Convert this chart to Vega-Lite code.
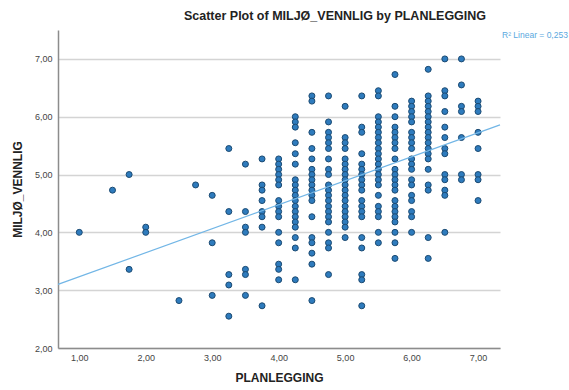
{
  "$schema": "https://vega.github.io/schema/vega-lite/v6.json",
  "autosize": "none",
  "width": 442,
  "height": 318,
  "padding": {"left": 58, "top": 30, "right": 69, "bottom": 42},
  "background": "white",
  "config": {
    "font": "Liberation Sans",
    "view": {"stroke": null}
  },
  "title": {
    "text": "Scatter Plot of MILJØ_VENNLIG by PLANLEGGING",
    "fontSize": 12.5,
    "fontWeight": "bold",
    "color": "#222222",
    "anchor": "middle",
    "dx": 56,
    "offset": 8
  },
  "datasets": {
    "pts": [
      {"plan":1,"miljo":4.00},
      {"plan":1.5,"miljo":4.73},
      {"plan":1.75,"miljo":5.00},{"plan":1.75,"miljo":3.36},
      {"plan":2,"miljo":4.09},{"plan":2,"miljo":4.00},
      {"plan":2.5,"miljo":2.82},
      {"plan":2.75,"miljo":4.82},
      {"plan":3,"miljo":4.64},{"plan":3,"miljo":3.82},{"plan":3,"miljo":2.91},
      {"plan":3.25,"miljo":5.45},{"plan":3.25,"miljo":4.36},{"plan":3.25,"miljo":3.27},{"plan":3.25,"miljo":3.09},{"plan":3.25,"miljo":2.55},
      {"plan":3.5,"miljo":5.18},{"plan":3.5,"miljo":4.36},{"plan":3.5,"miljo":4.09},{"plan":3.5,"miljo":4.00},{"plan":3.5,"miljo":3.36},{"plan":3.5,"miljo":3.27},{"plan":3.5,"miljo":2.91},
      {"plan":3.75,"miljo":5.27},{"plan":3.75,"miljo":4.82},{"plan":3.75,"miljo":4.73},{"plan":3.75,"miljo":4.55},{"plan":3.75,"miljo":4.36},{"plan":3.75,"miljo":4.27},{"plan":3.75,"miljo":4.09},{"plan":3.75,"miljo":2.73},
      {"plan":4,"miljo":5.27},{"plan":4,"miljo":5.18},{"plan":4,"miljo":5.09},{"plan":4,"miljo":5.00},{"plan":4,"miljo":4.91},{"plan":4,"miljo":4.82},{"plan":4,"miljo":4.55},{"plan":4,"miljo":4.45},{"plan":4,"miljo":4.36},{"plan":4,"miljo":4.27},{"plan":4,"miljo":4.00},{"plan":4,"miljo":3.82},{"plan":4,"miljo":3.45},{"plan":4,"miljo":3.36},{"plan":4,"miljo":3.18},
      {"plan":4.25,"miljo":6.00},{"plan":4.25,"miljo":5.91},{"plan":4.25,"miljo":5.82},{"plan":4.25,"miljo":5.55},{"plan":4.25,"miljo":5.36},{"plan":4.25,"miljo":5.18},{"plan":4.25,"miljo":4.91},{"plan":4.25,"miljo":4.82},{"plan":4.25,"miljo":4.73},{"plan":4.25,"miljo":4.64},{"plan":4.25,"miljo":4.55},{"plan":4.25,"miljo":4.45},{"plan":4.25,"miljo":4.36},{"plan":4.25,"miljo":4.27},{"plan":4.25,"miljo":4.18},{"plan":4.25,"miljo":4.09},{"plan":4.25,"miljo":3.91},{"plan":4.25,"miljo":3.73},{"plan":4.25,"miljo":3.18},
      {"plan":4.5,"miljo":6.36},{"plan":4.5,"miljo":6.27},{"plan":4.5,"miljo":5.73},{"plan":4.5,"miljo":5.45},{"plan":4.5,"miljo":5.27},{"plan":4.5,"miljo":5.09},{"plan":4.5,"miljo":5.00},{"plan":4.5,"miljo":4.91},{"plan":4.5,"miljo":4.82},{"plan":4.5,"miljo":4.73},{"plan":4.5,"miljo":4.64},{"plan":4.5,"miljo":4.55},{"plan":4.5,"miljo":4.27},{"plan":4.5,"miljo":3.91},{"plan":4.5,"miljo":3.82},{"plan":4.5,"miljo":3.64},{"plan":4.5,"miljo":3.45},{"plan":4.5,"miljo":2.82},
      {"plan":4.75,"miljo":6.36},{"plan":4.75,"miljo":5.91},{"plan":4.75,"miljo":5.73},{"plan":4.75,"miljo":5.64},{"plan":4.75,"miljo":5.55},{"plan":4.75,"miljo":5.45},{"plan":4.75,"miljo":5.27},{"plan":4.75,"miljo":5.09},{"plan":4.75,"miljo":5.00},{"plan":4.75,"miljo":4.82},{"plan":4.75,"miljo":4.73},{"plan":4.75,"miljo":4.64},{"plan":4.75,"miljo":4.55},{"plan":4.75,"miljo":4.45},{"plan":4.75,"miljo":4.36},{"plan":4.75,"miljo":4.27},{"plan":4.75,"miljo":4.18},{"plan":4.75,"miljo":4.00},{"plan":4.75,"miljo":3.82},{"plan":4.75,"miljo":3.73},{"plan":4.75,"miljo":3.27},
      {"plan":5,"miljo":6.18},{"plan":5,"miljo":5.64},{"plan":5,"miljo":5.55},{"plan":5,"miljo":5.45},{"plan":5,"miljo":5.27},{"plan":5,"miljo":5.18},{"plan":5,"miljo":5.09},{"plan":5,"miljo":5.00},{"plan":5,"miljo":4.91},{"plan":5,"miljo":4.82},{"plan":5,"miljo":4.73},{"plan":5,"miljo":4.64},{"plan":5,"miljo":4.55},{"plan":5,"miljo":4.45},{"plan":5,"miljo":4.36},{"plan":5,"miljo":4.27},{"plan":5,"miljo":4.18},{"plan":5,"miljo":4.09},{"plan":5,"miljo":3.91},
      {"plan":5.25,"miljo":6.36},{"plan":5.25,"miljo":5.82},{"plan":5.25,"miljo":5.73},{"plan":5.25,"miljo":5.36},{"plan":5.25,"miljo":5.18},{"plan":5.25,"miljo":5.09},{"plan":5.25,"miljo":5.00},{"plan":5.25,"miljo":4.91},{"plan":5.25,"miljo":4.82},{"plan":5.25,"miljo":4.73},{"plan":5.25,"miljo":4.55},{"plan":5.25,"miljo":4.45},{"plan":5.25,"miljo":4.36},{"plan":5.25,"miljo":4.27},{"plan":5.25,"miljo":3.91},{"plan":5.25,"miljo":3.73},{"plan":5.25,"miljo":3.27},{"plan":5.25,"miljo":3.18},{"plan":5.25,"miljo":2.73},
      {"plan":5.5,"miljo":6.45},{"plan":5.5,"miljo":6.36},{"plan":5.5,"miljo":6.00},{"plan":5.5,"miljo":5.91},{"plan":5.5,"miljo":5.82},{"plan":5.5,"miljo":5.73},{"plan":5.5,"miljo":5.64},{"plan":5.5,"miljo":5.55},{"plan":5.5,"miljo":5.45},{"plan":5.5,"miljo":5.36},{"plan":5.5,"miljo":5.27},{"plan":5.5,"miljo":5.18},{"plan":5.5,"miljo":5.09},{"plan":5.5,"miljo":5.00},{"plan":5.5,"miljo":4.91},{"plan":5.5,"miljo":4.82},{"plan":5.5,"miljo":4.64},{"plan":5.5,"miljo":4.45},{"plan":5.5,"miljo":4.36},{"plan":5.5,"miljo":4.27},{"plan":5.5,"miljo":4.00},{"plan":5.5,"miljo":3.82},
      {"plan":5.75,"miljo":6.73},{"plan":5.75,"miljo":6.18},{"plan":5.75,"miljo":6.00},{"plan":5.75,"miljo":5.82},{"plan":5.75,"miljo":5.73},{"plan":5.75,"miljo":5.64},{"plan":5.75,"miljo":5.55},{"plan":5.75,"miljo":5.45},{"plan":5.75,"miljo":5.27},{"plan":5.75,"miljo":5.09},{"plan":5.75,"miljo":5.00},{"plan":5.75,"miljo":4.91},{"plan":5.75,"miljo":4.82},{"plan":5.75,"miljo":4.73},{"plan":5.75,"miljo":4.55},{"plan":5.75,"miljo":4.45},{"plan":5.75,"miljo":4.36},{"plan":5.75,"miljo":4.27},{"plan":5.75,"miljo":4.18},{"plan":5.75,"miljo":4.00},{"plan":5.75,"miljo":3.82},{"plan":5.75,"miljo":3.55},
      {"plan":6,"miljo":6.27},{"plan":6,"miljo":6.18},{"plan":6,"miljo":6.09},{"plan":6,"miljo":6.00},{"plan":6,"miljo":5.91},{"plan":6,"miljo":5.73},{"plan":6,"miljo":5.64},{"plan":6,"miljo":5.55},{"plan":6,"miljo":5.45},{"plan":6,"miljo":5.27},{"plan":6,"miljo":5.18},{"plan":6,"miljo":5.09},{"plan":6,"miljo":4.91},{"plan":6,"miljo":4.82},{"plan":6,"miljo":4.64},{"plan":6,"miljo":4.55},{"plan":6,"miljo":4.36},{"plan":6,"miljo":4.27},{"plan":6,"miljo":4.00},
      {"plan":6.25,"miljo":6.82},{"plan":6.25,"miljo":6.36},{"plan":6.25,"miljo":6.27},{"plan":6.25,"miljo":6.18},{"plan":6.25,"miljo":6.09},{"plan":6.25,"miljo":6.00},{"plan":6.25,"miljo":5.91},{"plan":6.25,"miljo":5.82},{"plan":6.25,"miljo":5.73},{"plan":6.25,"miljo":5.64},{"plan":6.25,"miljo":5.55},{"plan":6.25,"miljo":5.45},{"plan":6.25,"miljo":5.36},{"plan":6.25,"miljo":5.27},{"plan":6.25,"miljo":5.09},{"plan":6.25,"miljo":4.82},{"plan":6.25,"miljo":4.73},{"plan":6.25,"miljo":3.91},{"plan":6.25,"miljo":3.55},
      {"plan":6.5,"miljo":7.00},{"plan":6.5,"miljo":6.45},{"plan":6.5,"miljo":6.36},{"plan":6.5,"miljo":6.09},{"plan":6.5,"miljo":5.82},{"plan":6.5,"miljo":5.64},{"plan":6.5,"miljo":5.45},{"plan":6.5,"miljo":5.36},{"plan":6.5,"miljo":5.00},{"plan":6.5,"miljo":4.91},{"plan":6.5,"miljo":4.73},{"plan":6.5,"miljo":4.64},{"plan":6.5,"miljo":4.00},
      {"plan":6.75,"miljo":7.00},{"plan":6.75,"miljo":6.55},{"plan":6.75,"miljo":6.18},{"plan":6.75,"miljo":6.09},{"plan":6.75,"miljo":5.64},{"plan":6.75,"miljo":5.00},{"plan":6.75,"miljo":4.91},
      {"plan":7,"miljo":6.27},{"plan":7,"miljo":6.18},{"plan":7,"miljo":6.09},{"plan":7,"miljo":5.73},{"plan":7,"miljo":5.45},{"plan":7,"miljo":5.00},{"plan":7,"miljo":4.91},{"plan":7,"miljo":4.55}
    ],
    "fit": [
      {"plan": 0.68, "miljo": 3.10},
      {"plan": 7.33, "miljo": 5.86}
    ],
    "note": [
      {"label": "R² Linear = 0,253"}
    ]
  },
  "layer": [
    {
      "data": {"name": "pts"},
      "mark": {"type": "point", "filled": true, "fill": "#2e7bbd", "stroke": "#1b4a72", "strokeWidth": 1, "size": 36, "opacity": 1},
      "encoding": {
        "x": {
          "field": "plan", "type": "quantitative",
          "scale": {"domain": [0.68, 7.33], "nice": false, "zero": false},
          "axis": {
            "values": [1, 2, 3, 4, 5, 6, 7],
            "labelExpr": "replace(format(datum.value, '.2f'), '.', ',')",
            "grid": false, "ticks": false,
            "domainColor": "#8c8c8c", "domainWidth": 1.5,
            "labelFontSize": 9, "labelColor": "#444444", "labelPadding": 5,
            "title": "PLANLEGGING", "titleFontSize": 12, "titleFontWeight": "bold", "titleColor": "#222222", "titlePadding": 10
          }
        },
        "y": {
          "field": "miljo", "type": "quantitative",
          "scale": {"domain": [2, 7.5], "nice": false, "zero": false},
          "axis": {
            "values": [2, 3, 4, 5, 6, 7],
            "labelExpr": "replace(format(datum.value, '.2f'), '.', ',')",
            "grid": true, "gridColor": "#d4d4d4", "gridWidth": 1.5,
            "ticks": false,
            "domainColor": "#8c8c8c", "domainWidth": 1.5,
            "labelFontSize": 9, "labelColor": "#444444", "labelPadding": 6,
            "title": "MILJØ_VENNLIG", "titleFontSize": 12, "titleFontWeight": "bold", "titleColor": "#222222", "titlePadding": 10
          }
        }
      }
    },
    {
      "data": {"name": "fit"},
      "mark": {"type": "line", "color": "#72b6e6", "strokeWidth": 1.2},
      "encoding": {
        "x": {"field": "plan", "type": "quantitative"},
        "y": {"field": "miljo", "type": "quantitative"}
      }
    },
    {
      "data": {"name": "note"},
      "mark": {"type": "text", "align": "left", "baseline": "middle", "dx": 2, "dy": 5, "fontSize": 8.5, "color": "#5aa8de"},
      "encoding": {
        "x": {"datum": 7.33, "type": "quantitative"},
        "y": {"datum": 7.5, "type": "quantitative"},
        "text": {"field": "label"}
      }
    }
  ]
}
